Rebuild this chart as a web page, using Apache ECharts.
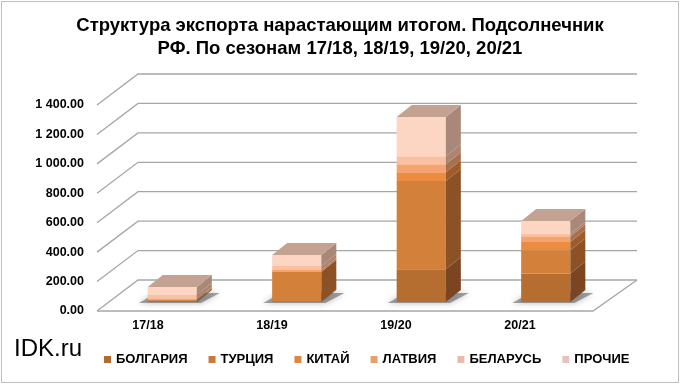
<!DOCTYPE html>
<html>
<head>
<meta charset="utf-8">
<script src="https://cdn.jsdelivr.net/npm/echarts@6/dist/echarts.min.js"></script>
<style>html,body{margin:0;padding:0;background:#fff;}#c{width:680px;height:384px;}</style>
</head>
<body>
<div id="c"></div>
<script>
const seasons = ['17/18', '18/19', '19/20', '20/21'];
const countries = ['БОЛГАРИЯ', 'ТУРЦИЯ', 'КИТАЙ', 'ЛАТВИЯ', 'БЕЛАРУСЬ', 'ПРОЧИЕ'];
const bulgaria = [6, 5, 222, 193];
const turkey = [5, 199, 600, 158];
const china = [3, 5, 59, 56];
const latvia = [6, 8, 56, 39];
const belarus = [28, 28, 54, 18];
const other = [54, 75, 267, 86];
const yTicks = [0, 200, 400, 600, 800, 1000, 1200, 1400];

const seriesValues = [bulgaria, turkey, china, latvia, belarus, other];
const frontColors = ['#B56E30', '#D2803A', '#EC8C40', '#F5A470', '#FAC0A2', '#FDD5C3'];
const sideColors = ['#7A4520', '#8C5226', '#A05C28', '#A8704C', '#AE8470', '#A88878'];
const topColor = '#C4A292';
const legendColors = ['#B06C30', '#C97A36', '#DE873E', '#E6A070', '#E8BCA6', '#E2C6BC'];

const DX = 15, DY = 12;

function fmt(v) {
  const s = v.toFixed(2);
  const [i, d] = s.split('.');
  return i.replace(/\B(?=(\d{3})+(?!\d))/g, ' ') + '.' + d;
}

const stacks = [];
const base = seasons.map(() => 0);
seriesValues.forEach((arr) => {
  const items = arr.map((v, i) => {
    const it = [i, base[i], base[i] + v];
    base[i] += v;
    return it;
  });
  stacks.push(items);
});

const series = [];

series.push({
  type: 'custom', name: 'walls', xAxisIndex: 1, yAxisIndex: 1, silent: true,
  data: yTicks.map(v => [0, v]),
  encode: { x: 0, y: 1 },
  renderItem: function (params, api) {
    const cs = params.coordSys;
    const y = api.coord([0, api.value(1)])[1];
    const x0 = cs.x + 11, bx = x0 + 41, by = y - 31, ex = 637;
    const children = [{
      type: 'polyline',
      shape: { points: [[x0, y], [bx, by], [ex, by]] },
      style: { stroke: '#A6A6A6', lineWidth: 1.3, fill: null }
    }];
    if (api.value(1) === 0) {
      children.push({
        type: 'polyline',
        shape: { points: [[x0, y], [593, y], [ex, by]] },
        style: { stroke: '#A6A6A6', lineWidth: 1.3, fill: null }
      });
    }
    return { type: 'group', children: children };
  }
});

series.push({
  type: 'custom', name: 'shadow', xAxisIndex: 0, yAxisIndex: 0, silent: true,
  data: seasons.map((s, i) => [i, 0]),
  encode: { x: 0, y: 1 },
  renderItem: function (params, api) {
    const p = api.coord([api.value(0), 0]);
    const bw = api.size([1, 0])[0] * 0.395;
    const x0 = p[0] - bw / 2, x1 = p[0] + bw / 2, yb = p[1];
    return {
      type: 'polygon',
      shape: { points: [[x0 - 9, yb + 1], [x1 + 4, yb + 1], [x1 + DX + 8, yb - DY + 3], [x0 + DX - 6, yb - DY + 3]] },
      style: { fill: 'rgba(90,90,90,0.55)', shadowBlur: 6, shadowColor: 'rgba(0,0,0,0.5)' }
    };
  }
});

countries.forEach((name, si) => {
  series.push({
    type: 'custom', name: name, xAxisIndex: 0, yAxisIndex: 0,
    itemStyle: { color: legendColors[si] },
    data: stacks[si],
    encode: { x: 0, y: [1, 2] },
    renderItem: function (params, api) {
      const pb = api.coord([api.value(0), api.value(1)]);
      const pt = api.coord([api.value(0), api.value(2)]);
      const bw = api.size([1, 0])[0] * 0.395;
      const x0 = pb[0] - bw / 2, x1 = pb[0] + bw / 2, yb = pb[1], yt = pt[1];
      const children = [
        {
          type: 'rect', shape: { x: x0, y: yt, width: bw, height: yb - yt },
          style: { fill: frontColors[si] }
        },
        {
          type: 'polygon',
          shape: { points: [[x1, yb], [x1, yt], [x1 + DX, yt - DY], [x1 + DX, yb - DY]] },
          style: { fill: sideColors[si] }
        }
      ];
      if (si === countries.length - 1) {
        children.push({
          type: 'polygon',
          shape: { points: [[x0, yt], [x1, yt], [x1 + DX, yt - DY], [x0 + DX, yt - DY]] },
          style: { fill: topColor }
        });
      }
      return { type: 'group', children: children };
    }
  });
});

const chart = echarts.init(document.getElementById('c'), null, { renderer: 'canvas' });
chart.setOption({
  animation: false,
  backgroundColor: '#fff',
  title: {
    text: 'Структура экспорта нарастающим итогом. Подсолнечник\nРФ. По сезонам 17/18, 18/19, 19/20, 20/21',
    left: 'center', top: 9,
    textStyle: { fontFamily: '"Liberation Sans Narrow", "Arial Narrow", "Liberation Sans", sans-serif', fontWeight: 'bold', fontSize: 18.5, lineHeight: 23, color: '#000' }
  },
  legend: {
    data: countries,
    left: 99, top: 348, itemGap: 21, itemWidth: 7, itemHeight: 7,
    icon: 'rect',
    textStyle: { fontFamily: '"Liberation Sans", Arial, sans-serif', fontWeight: 'bold', fontSize: 13, color: '#000' }
  },
  grid: [
    { left: 110, width: 498, top: 96, height: 206 },
    { left: 86, width: 496, top: 105, height: 206 }
  ],
  xAxis: [
    { type: 'category', data: seasons, gridIndex: 0, show: false },
    {
      type: 'category', data: seasons, gridIndex: 1,
      axisLine: { show: false }, axisTick: { show: false }, splitLine: { show: false },
      axisLabel: { margin: 8, fontFamily: '"Liberation Sans", Arial, sans-serif', fontWeight: 'bold', fontSize: 12.5, color: '#000' }
    }
  ],
  yAxis: [
    { type: 'value', gridIndex: 0, min: 0, max: 1400, interval: 200, show: false },
    {
      type: 'value', gridIndex: 1, min: 0, max: 1400, interval: 200,
      axisLine: { show: false }, axisTick: { show: false }, splitLine: { show: false },
      axisLabel: { margin: 2, formatter: fmt, fontFamily: '"Liberation Sans", Arial, sans-serif', fontWeight: 'bold', fontSize: 12.5, color: '#000' }
    }
  ],
  graphic: [
    { type: 'rect', silent: true, shape: { x: 1.5, y: 1.5, width: 677, height: 381 }, style: { fill: null, stroke: '#BFBFBF', lineWidth: 1 } },
    { type: 'text', left: 14, top: 337, style: { text: 'IDK.ru', fontFamily: '"Liberation Sans", Arial, sans-serif', fontSize: 24, fill: '#000' } }
  ],
  series: series
});
</script>
</body>
</html>
